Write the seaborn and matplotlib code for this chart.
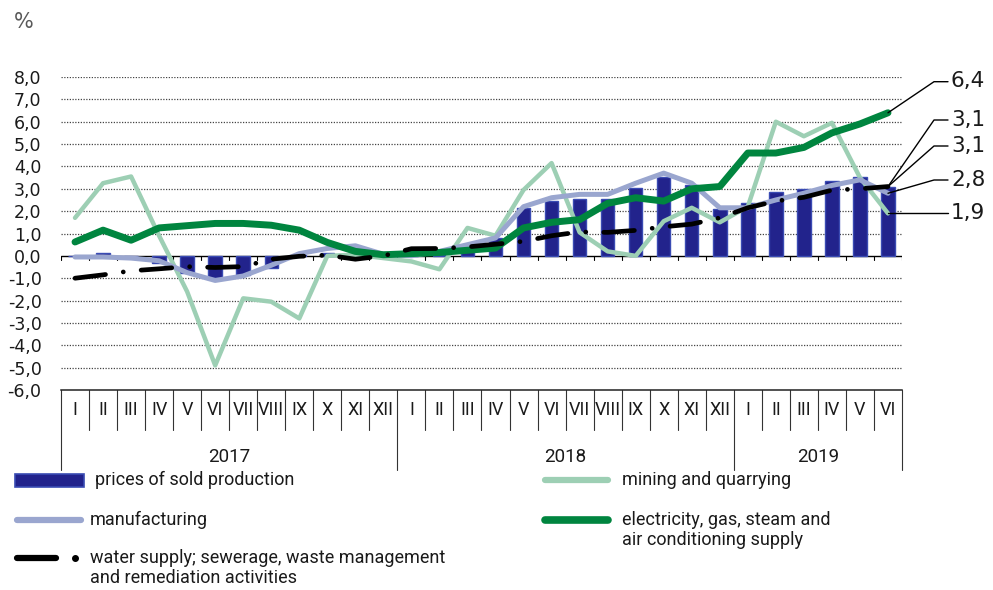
import numpy as np
import matplotlib
matplotlib.use("Agg")
import matplotlib.pyplot as plt
import seaborn as sns
from matplotlib.lines import Line2D
from matplotlib.patches import Rectangle
from matplotlib.transforms import IdentityTransform

# ---------------- data ----------------
months = ["I", "II", "III", "IV", "V", "VI", "VII", "VIII", "IX", "X", "XI", "XII",
          "I", "II", "III", "IV", "V", "VI", "VII", "VIII", "IX", "X", "XI", "XII",
          "I", "II", "III", "IV", "V", "VI"]
years = ["2017", "2018", "2019"]
year_lengths = [12, 12, 6]

prices = [0.0, 0.15, 0.0, -0.3, -0.75, -1.0, -0.86, -0.55, 0.05, 0.15, 0.05, 0.0,
          0.0, 0.05, 0.3, 0.8, 2.15, 2.45, 2.56, 2.56, 3.05, 3.52, 3.15, 2.1,
          2.38, 2.85, 2.97, 3.34, 3.54, 3.1]
mining = [1.7, 3.25, 3.55, 0.9, -1.6, -4.9, -1.9, -2.05, -2.8, 0.0, 0.05, -0.1,
          -0.25, -0.6, 1.25, 0.9, 2.95, 4.15, 1.05, 0.2, 0.0, 1.55, 2.15, 1.5,
          2.2, 6.0, 5.35, 5.95, 3.5, 1.9]
manufacturing = [-0.05, -0.05, -0.1, -0.22, -0.75, -1.1, -0.9, -0.42, 0.1, 0.33, 0.45, 0.07,
                 0.0, 0.2, 0.5, 0.8, 2.2, 2.6, 2.75, 2.75, 3.25, 3.7, 3.25, 2.15,
                 2.15, 2.5, 2.8, 3.15, 3.4, 2.8]
electricity = [0.62, 1.15, 0.7, 1.25, 1.35, 1.45, 1.45, 1.37, 1.15, 0.6, 0.2, 0.05,
               0.1, 0.15, 0.25, 0.35, 1.25, 1.5, 1.62, 2.35, 2.6, 2.45, 3.0, 3.1,
               4.6, 4.6, 4.85, 5.5, 5.9, 6.4]
water = [-1.0, -0.85, -0.67, -0.58, -0.48, -0.52, -0.48, -0.15, -0.02, 0.03, -0.15, 0.0,
         0.32, 0.33, 0.4, 0.52, 0.65, 0.9, 1.07, 1.05, 1.14, 1.3, 1.42, 1.7,
         2.15, 2.45, 2.62, 2.94, 3.0, 3.1]

end_labels = ["6,4", "3,1", "3,1", "2,8", "1,9"]
legend_labels = ["prices of sold production", "manufacturing",
                 "water supply; sewerage, waste management", "and remediation activities",
                 "mining and quarrying", "electricity, gas, steam and", "air conditioning supply"]

# ---------------- style ----------------
BAR = "#22238c"
BAR_EDGE = "#3a4bb3"
C_MIN = "#9dcfb4"
C_MAN = "#9aa6cf"
C_ELE = "#00853f"
C_WAT = "#000000"
TXT = "#1a1a1a"
NARROW = ["Roboto", "DejaVu Sans"]

sns.set_theme(style="white")
plt.rcParams["font.family"] = ["DejaVu Sans"]

W, H = 993, 590
fig = plt.figure(figsize=(W / 100, H / 100), dpi=100)
ax = fig.add_axes([61 / W, 1 - 390 / H, (902 - 61) / W, (390 - 77) / H])

idx = np.arange(len(months))

sns.barplot(x=idx, y=prices, ax=ax, color=BAR, saturation=1, width=0.48,
            edgecolor=BAR_EDGE, linewidth=1, zorder=2)
sns.lineplot(x=idx, y=mining, ax=ax, color=C_MIN, lw=3.2, zorder=3)
sns.lineplot(x=idx, y=manufacturing, ax=ax, color=C_MAN, lw=3.6, zorder=3.1)
sns.lineplot(x=idx, y=electricity, ax=ax, color=C_ELE, lw=5.0, zorder=3.2)
sns.lineplot(x=idx, y=water, ax=ax, color=C_WAT, lw=3.4, zorder=3.3)
wl = ax.lines[-1]
wl.set_dashes((6.5, 3.8, 0.01, 3.8))
wl.set_dash_capstyle("round")
for ln in ax.lines[:-1]:
    ln.set_solid_capstyle("round")
    ln.set_solid_joinstyle("round")

ax.set_xlim(-0.5, len(months) - 0.5)
ax.set_ylim(-6, 8)

# grid
for v in range(-5, 9):
    if v == 0:
        ax.axhline(0, color="black", lw=1.0, zorder=1.5)
    else:
        ax.axhline(v, color="#444444", lw=0.9, ls=(0, (1, 1.2)), zorder=1)

for s in ["left", "right", "top"]:
    ax.spines[s].set_visible(False)
ax.spines["bottom"].set_color("#222222")
ax.spines["bottom"].set_linewidth(1.1)

ax.set_yticks(range(-6, 9))
ax.set_yticklabels([f"{v:.1f}".replace(".", ",") for v in range(-6, 9)])
ax.tick_params(axis="y", length=0, pad=14, labelsize=12.5, labelcolor=TXT)
ax.set_xticks(idx)
ax.set_xticklabels(months, fontfamily=NARROW)
ax.tick_params(axis="x", length=0, pad=8, labelsize=13, labelcolor=TXT)
ax.set_xlabel("")
ax.set_ylabel("")

trans = ax.get_xaxis_transform()
year_starts = np.cumsum([0] + year_lengths)
for k in range(len(months) + 1):
    x = k - 0.5
    ymin = -0.256 if k in year_starts else -0.128
    ax.plot([x, x], [0, ymin], transform=trans, color="#333333", lw=0.8, clip_on=False)
    ax.plot([x, x], [0, -0.18], color="black", lw=0.8, zorder=1.6)

for yname, a, b in zip(years, year_starts[:-1], year_starts[1:]):
    ax.text((a + b - 1) / 2, -0.214, yname, transform=trans, ha="center", va="center",
            fontsize=13.5, color=TXT, fontfamily=NARROW)

fig.text(14 / W, 1 - 22 / H, "%", fontsize=15, color="#595959", va="center", ha="left")

# end labels with leader lines
fig.canvas.draw()
targets = [electricity[-1], water[-1], prices[-1], manufacturing[-1], mining[-1]]
label_y = [81.7, 120, 146, 180, None]
idt = IdentityTransform()
for txt, val, ly in zip(end_labels, targets, label_y):
    px, py = ax.transData.transform((idx[-1], val))
    if ly is None:
        ly = H - py
    ly_d = H - ly
    fig.add_artist(Line2D([px, 934, 948], [py, ly_d, ly_d], transform=idt,
                          color="black", lw=1.0))
    fig.text(951 / W, (ly_d + 0.5) / H, txt, fontsize=15.5, color=TXT,
             va="center", ha="left")

# legend (manual)
def fx(x):
    return x / W


def fy(y):
    return 1 - y / H


fig.add_artist(Rectangle((fx(15), fy(487)), 69 / W, 13 / H, transform=fig.transFigure,
                         facecolor=BAR, edgecolor=BAR_EDGE, lw=1.2))
fig.add_artist(Line2D([fx(17), fx(81)], [fy(520), fy(520)], transform=fig.transFigure,
                      color=C_MAN, lw=4.5, solid_capstyle="round"))
fig.add_artist(Line2D([fx(17), fx(56)], [fy(558), fy(558)], transform=fig.transFigure,
                      color=C_WAT, lw=4.5, solid_capstyle="round"))
fig.add_artist(Line2D([fx(75)], [fy(558)], transform=fig.transFigure, marker="o",
                      ms=4, color=C_WAT, lw=0))
fig.add_artist(Line2D([fx(545), fx(608)], [fy(480), fy(480)], transform=fig.transFigure,
                      color=C_MIN, lw=4.5, solid_capstyle="round"))
fig.add_artist(Line2D([fx(545), fx(608)], [fy(520), fy(520)], transform=fig.transFigure,
                      color=C_ELE, lw=5.5, solid_capstyle="round"))

leg_pos = [(95, 480), (90, 520), (90, 558), (90, 578), (622, 480), (622, 520), (622, 540)]
for t, (x, y) in zip(legend_labels, leg_pos):
    fig.text(fx(x), fy(y), t, fontsize=13, color=TXT, va="center", ha="left",
             fontfamily=NARROW)

fig.savefig("out.png", dpi=100)
